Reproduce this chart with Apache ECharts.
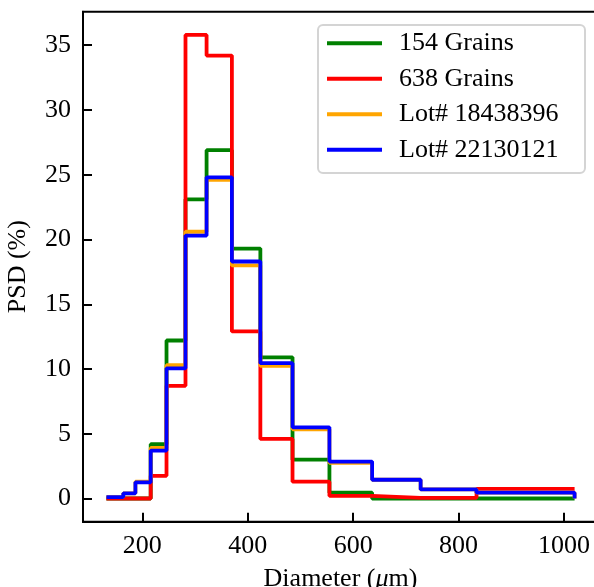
<!DOCTYPE html>
<html>
<head>
<meta charset="utf-8">
<script src="https://cdn.jsdelivr.net/npm/echarts@6/dist/echarts.min.js"></script>
<style>html,body{margin:0;padding:0;background:#fff;}#c{width:594px;height:587px;}</style>
</head>
<body>
<div id="c"></div>
<script>
// Bin edges (diameter, µm)
const edges = [132, 164, 187, 216, 246, 282, 322, 370, 424, 485, 555, 636, 728, 834, 1020];
// PSD (%) per bin
const grains154 = [0, 0, 0, 4.2, 12.2, 23.1, 26.9, 19.3, 10.9, 3.0, 0.45, 0, 0, 0];
const grains638 = [0, 0, 0, 1.75, 8.7, 35.8, 34.2, 12.9, 4.6, 1.3, 0.2, 0.05, 0.05, 0.75];
const lot18438396 = [0.1, 0.4, 1.3, 3.9, 10.3, 20.6, 24.6, 18.0, 10.25, 5.35, 2.75, 1.45, 0.7, 0.45];
const lot22130121 = [0.1, 0.4, 1.25, 3.7, 10.05, 20.3, 24.8, 18.3, 10.45, 5.5, 2.85, 1.45, 0.7, 0.45];
const xTicks = [200, 400, 600, 800, 1000];
const yTicks = [0, 5, 10, 15, 20, 25, 30, 35];
const names = ['154 Grains', '638 Grains', 'Lot# 18438396', 'Lot# 22130121'];
const colors = ['#008000', '#ff0000', '#ffa500', '#0000ff'];

function stairs(vals, dropEnd) {
  const pts = vals.map((v, i) => [edges[i], v]);
  pts.push([edges[edges.length - 1], vals[vals.length - 1]]);
  if (dropEnd) pts.push([edges[edges.length - 1], 0]);
  return pts;
}

const allVals = [].concat(grains154, grains638, lot18438396, lot22130121);
const yMaxData = Math.max.apply(null, allVals);
const xSpan = edges[edges.length - 1] - edges[0];
const font = 'Liberation Serif';
const fs = 26;

const chart = echarts.init(document.getElementById('c'));
chart.setOption({
  animation: false,
  backgroundColor: '#fff',
  grid: {
    left: 83, top: 11.7, width: 515, height: 510,
    outerBoundsMode: 'none', containLabel: false,
    show: true, borderColor: '#000', borderWidth: 2, backgroundColor: 'transparent'
  },
  xAxis: {
    type: 'value',
    min: edges[0] - 0.05 * xSpan,
    max: edges[edges.length - 1] + 0.05 * xSpan,
    name: 'Diameter ({i|μ}m)',
    nameLocation: 'middle',
    nameGap: 44,
    nameTextStyle: { fontFamily: font, fontSize: fs, color: '#000',
      rich: { i: { fontFamily: font, fontSize: fs, fontStyle: 'italic', color: '#000' } } },
    axisLine: { show: true, onZero: false, lineStyle: { color: '#000', width: 2 } },
    axisTick: { show: true, inside: true, length: 9, lineStyle: { color: '#000', width: 2 }, customValues: xTicks },
    axisLabel: { fontFamily: font, fontSize: fs, color: '#000', margin: 11, customValues: xTicks,
      formatter: v => String(v) },
    splitLine: { show: false }
  },
  yAxis: {
    type: 'value',
    min: -0.05 * yMaxData,
    max: yMaxData * 1.05,
    name: 'PSD (%)',
    nameLocation: 'middle',
    nameGap: 52,
    nameTextStyle: { fontFamily: font, fontSize: fs, color: '#000' },
    axisLine: { show: true, onZero: false, lineStyle: { color: '#000', width: 2 } },
    axisTick: { show: true, inside: true, length: 9, lineStyle: { color: '#000', width: 2 }, customValues: yTicks },
    axisLabel: { fontFamily: font, fontSize: fs, color: '#000', margin: 12, customValues: yTicks,
      formatter: v => String(v) },
    splitLine: { show: false }
  },
  graphic: [{
    type: 'rect', z: 3,
    shape: { x: 318, y: 25, width: 267, height: 148, r: 5 },
    style: { fill: 'rgba(255,255,255,0.85)', stroke: '#d4d4d4', lineWidth: 2 }
  }],
  legend: {
    left: 327, top: 25.5, orient: 'vertical', padding: 0, z: 5,
    itemGap: 0, itemWidth: 55, itemHeight: 4, icon: 'rect',
    data: names,
    textStyle: { fontFamily: font, fontSize: fs, color: '#000', lineHeight: 35.5, padding: [0, 0, 0, 12] }
  },
  series: [
    { name: names[0], type: 'line', step: 'end', symbol: 'none', data: stairs(grains154, false),
      lineStyle: { color: colors[0], width: 3.8 }, itemStyle: { color: colors[0] }, z: 2 },
    { name: names[1], type: 'line', step: 'end', symbol: 'none', data: stairs(grains638, false),
      lineStyle: { color: colors[1], width: 3.8 }, itemStyle: { color: colors[1] }, z: 2 },
    { name: names[2], type: 'line', step: 'end', symbol: 'none', data: stairs(lot18438396, true),
      lineStyle: { color: colors[2], width: 3.8 }, itemStyle: { color: colors[2] }, z: 2 },
    { name: names[3], type: 'line', step: 'end', symbol: 'none', data: stairs(lot22130121, true),
      lineStyle: { color: colors[3], width: 3.8 }, itemStyle: { color: colors[3] }, z: 2 }
  ]
});
</script>
</body>
</html>
